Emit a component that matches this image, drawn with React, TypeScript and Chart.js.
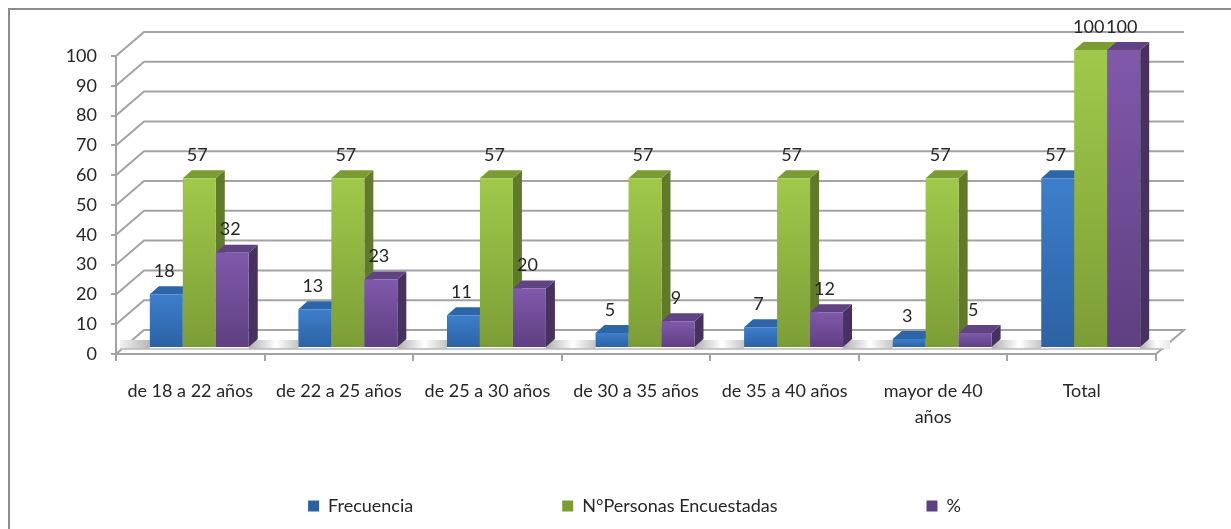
import React, { useEffect, useRef } from "react";
import { Chart, registerables } from "chart.js";

Chart.register(...registerables);

const categories = [
  "de 18 a 22 años",
  "de 22 a 25 años",
  "de 25 a 30 años",
  "de 30 a 35 años",
  "de 35 a 40 años",
  ["mayor de 40", "años"],
  "Total",
];
const frecuencia = [18, 13, 11, 5, 7, 3, 57];
const encuestadas = [57, 57, 57, 57, 57, 57, 100];
const porcentaje = [32, 23, 20, 9, 12, 5, 100];

const FONT = "Lato, 'Liberation Sans', sans-serif";
const TEXT = "#262626";
const LINE = "#a3a3a3";
const WALL = { dx: 28, dy: -24 };
const BAR_SHIFT = { dx: 9, dy: -6 };
const BAR_DEPTH = { dx: 9, dy: -8 };

const palette = [
  { light: "#3d7ecb", dark: "#2b62a3", top: "#2d66a8", side: "#234f85", swatch: "#2f6cb3" },
  { light: "#a0c94a", dark: "#7c9d36", top: "#7a9c32", side: "#5f7a29", swatch: "#8cb23c" },
  { light: "#8059ab", dark: "#5e3f80", top: "#5f4383", side: "#46315f", swatch: "#6a4a94" },
];

function frontFill(index: number) {
  return (c: any) => {
    const y = c.chart.scales?.y;
    if (typeof c.raw !== "number" || !y) return palette[index].swatch;
    const y1 = y.getPixelForValue(c.raw);
    const y2 = y.getPixelForValue(0);
    if (!Number.isFinite(y1) || !Number.isFinite(y2)) return palette[index].swatch;
    const g = c.chart.ctx.createLinearGradient(0, y1, 0, y2);
    g.addColorStop(0, palette[index].light);
    g.addColorStop(1, palette[index].dark);
    return g;
  };
}

const scene3d = {
  id: "scene3d",
  beforeLayout(chart: any) {
    const legend = chart.legend;
    if (legend && !legend.__fitPatched) {
      const fit = legend.fit;
      legend.fit = function () {
        fit.call(this);
        this.height = 168;
      };
      legend.__fitPatched = true;
    }
  },
  afterLayout(chart: any) {
    if (chart.legend) chart.legend.top = 348;
    // let the category labels draw below the scale's squeezed box
    chart.scales.x.bottom = chart.height;
  },
  beforeDraw(chart: any) {
    const { ctx } = chart;
    ctx.save();
    ctx.strokeStyle = "#8c8c8c";
    ctx.lineWidth = 2;
    ctx.beginPath();
    ctx.moveTo(9, 530);
    ctx.lineTo(9, 9);
    ctx.lineTo(1232, 9);
    ctx.stroke();
    ctx.restore();
  },
  beforeDatasetsDraw(chart: any) {
    const { ctx, chartArea: a, scales } = chart;
    const y = scales.y;
    ctx.save();

    // back wall and left wall lines
    ctx.strokeStyle = LINE;
    ctx.lineWidth = 2;
    y.ticks.forEach((t: any) => {
      const py = y.getPixelForValue(t.value);
      if (t.value === 0) return;
      ctx.beginPath();
      ctx.moveTo(a.left, py);
      ctx.lineTo(a.left + WALL.dx, py + WALL.dy);
      ctx.lineTo(a.right + WALL.dx, py + WALL.dy);
      ctx.stroke();
    });

    // floor
    const y0 = y.getPixelForValue(0);
    ctx.beginPath();
    ctx.moveTo(a.left, y0);
    ctx.lineTo(a.left + WALL.dx, y0 + WALL.dy);
    ctx.lineTo(a.right + WALL.dx, y0 + WALL.dy);
    ctx.lineTo(a.right, y0);
    ctx.closePath();
    ctx.fillStyle = "#ffffff";
    ctx.fill();
    ctx.stroke();

    // shaded strip of the floor behind the bars
    const stripTop = y0 - 14;
    const stripBottom = y0 - 5;
    const metaA = chart.getDatasetMeta(0).data;
    const metaC = chart.getDatasetMeta(2).data;
    const firstLeft = metaA[0].x - metaA[0].width / 2 + BAR_SHIFT.dx;
    const lg0 = ctx.createLinearGradient(a.left + 4, 0, firstLeft, 0);
    lg0.addColorStop(0, "#f2f2f2");
    lg0.addColorStop(1, "#b5b5b5");
    ctx.fillStyle = lg0;
    ctx.fillRect(a.left + 4, stripTop, firstLeft - a.left - 4, stripBottom - stripTop);
    metaC.forEach((el: any, i: number) => {
      const from = el.x + el.width / 2 + BAR_SHIFT.dx;
      const to = i + 1 < metaA.length ? metaA[i + 1].x - metaA[i + 1].width / 2 + BAR_SHIFT.dx : a.right + 14;
      const g = ctx.createLinearGradient(from, 0, to, 0);
      g.addColorStop(0, "#b0b0b0");
      g.addColorStop(0.55, "#ffffff");
      g.addColorStop(1, i + 1 < metaA.length ? "#c4c4c4" : "#e8e8e8");
      ctx.fillStyle = g;
      ctx.fillRect(from, stripTop, to - from, stripBottom - stripTop);
    });
    ctx.strokeStyle = "#b8b8b8";
    ctx.lineWidth = 1.5;
    ctx.beginPath();
    ctx.moveTo(a.left + 4, stripBottom);
    ctx.lineTo(a.right + 8, stripBottom);
    ctx.stroke();

    // bars: native elements, drawn left to right with their depth faces
    ctx.translate(BAR_SHIFT.dx, BAR_SHIFT.dy);
    [0, 1, 2].forEach((i) => {
      const meta = chart.getDatasetMeta(i);
      meta.data.forEach((el: any) => {
        const l = el.x - el.width / 2;
        const r = el.x + el.width / 2;
        const { dx, dy } = BAR_DEPTH;
        ctx.fillStyle = palette[i].side;
        ctx.beginPath();
        ctx.moveTo(r, el.y);
        ctx.lineTo(r + dx, el.y + dy);
        ctx.lineTo(r + dx, el.base + dy);
        ctx.lineTo(r, el.base);
        ctx.closePath();
        ctx.fill();
        ctx.fillStyle = palette[i].top;
        ctx.beginPath();
        ctx.moveTo(l, el.y);
        ctx.lineTo(l + dx, el.y + dy);
        ctx.lineTo(r + dx, el.y + dy);
        ctx.lineTo(r, el.y);
        ctx.closePath();
        ctx.fill();
      });
      meta.controller.draw();
    });

    // value labels
    ctx.fillStyle = TEXT;
    ctx.font = `18px ${FONT}`;
    ctx.textAlign = "center";
    ctx.textBaseline = "middle";
    [0, 1, 2].forEach((i) => {
      const meta = chart.getDatasetMeta(i);
      meta.data.forEach((el: any, k: number) => {
        ctx.fillText(String(chart.data.datasets[i].data[k]), el.x - 2, el.y - 23);
      });
    });
    ctx.restore();
    return false;
  },
};

export default function App() {
  const ref = useRef<HTMLCanvasElement>(null);

  useEffect(() => {
    if (!ref.current) return;
    const chart = new Chart(ref.current, {
      type: "bar",
      data: {
        labels: categories as any,
        datasets: [
          { label: "Frecuencia", data: frecuencia, backgroundColor: frontFill(0) as any },
          { label: "N°Personas Encuestadas", data: encuestadas, backgroundColor: frontFill(1) as any },
          { label: "%", data: porcentaje, backgroundColor: frontFill(2) as any },
        ],
      },
      plugins: [scene3d as any],
      options: {
        animation: false,
        responsive: false,
        devicePixelRatio: 1,
        layout: { padding: { left: 38, right: 0, top: 56, bottom: 0 } },
        datasets: { bar: { categoryPercentage: 0.666, barPercentage: 1, borderWidth: 0 } },
        plugins: {
          tooltip: { enabled: false },
          title: { display: false },
          legend: {
            position: "bottom",
            labels: {
              boxWidth: 11,
              boxHeight: 11,
              padding: 149,
              color: TEXT,
              font: { family: FONT, size: 18 },
            },
          },
        },
        scales: {
          x: {
            grid: { drawOnChartArea: false, color: LINE, lineWidth: 2, tickLength: 7, offset: true },
            border: { color: LINE, width: 2 },
            ticks: {
              color: TEXT,
              font: { family: FONT, size: 18, lineHeight: 1.45 },
              padding: 17,
              maxRotation: 0,
              minRotation: 0,
              autoSkip: false,
            },
            afterFit: (s: any) => {
              s.height = 7;
              s.paddingLeft = 0;
              s.paddingRight = 0;
            },
          },
          y: {
            min: 0,
            max: 100,
            grid: { drawOnChartArea: false, color: LINE, lineWidth: 2, tickLength: 5 },
            border: { color: LINE, width: 2 },
            ticks: {
              stepSize: 10,
              color: TEXT,
              font: { family: FONT, size: 18 },
              padding: 14,
            },
            afterFit: (s: any) => {
              s.width = 78;
              s.paddingBottom = 0;
              s.paddingTop = 0;
            },
          },
          y2: {
            position: "right",
            min: 0,
            max: 100,
            grid: { display: false },
            border: { display: false },
            ticks: { display: false },
            afterFit: (s: any) => {
              s.width = 75;
              s.paddingBottom = 0;
              s.paddingTop = 0;
            },
          },
        },
      },
    });
    return () => chart.destroy();
  }, []);

  return (
    <div style={{ position: "fixed", left: 0, top: 0, width: 1231, height: 529, background: "#ffffff" }}>
      <canvas ref={ref} width={1231} height={529} style={{ display: "block" }} />
    </div>
  );
}
